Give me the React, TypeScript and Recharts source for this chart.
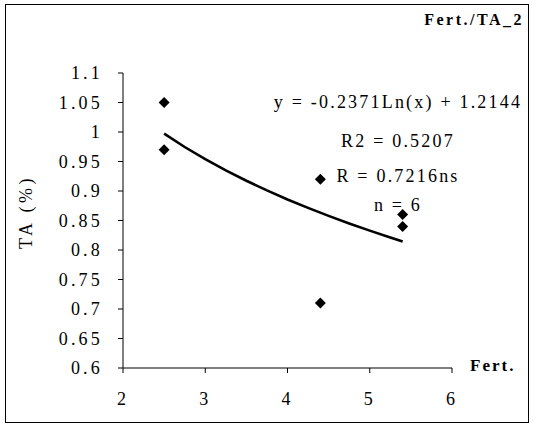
import { ScatterChart, Scatter, XAxis, YAxis, Label } from "recharts";

// observed TA (%) per fertilizer level
const fertLevels = [2.5, 2.5, 4.4, 4.4, 5.4, 5.4];
const taValues = [1.05, 0.97, 0.92, 0.71, 0.86, 0.84];

const xTicks = [2, 3, 4, 5, 6];
const yTicks = [0.6, 0.65, 0.7, 0.75, 0.8, 0.85, 0.9, 0.95, 1, 1.05, 1.1];

// logarithmic trendline: y = a*ln(x) + b
const trendA = -0.2371;
const trendB = 1.2144;
const trendXs = [2.5, 2.75, 3, 3.25, 3.5, 3.75, 4, 4.25, 4.5, 4.75, 5, 5.25, 5.4];

const statLines = ["y = -0.2371Ln(x) + 1.2144", "R2 = 0.5207", "R = 0.7216ns", "n = 6"];
const statBaselines = [108, 147, 182, 211];

const points = fertLevels.map((x, i) => ({ x, y: taValues[i] }));
const trend = trendXs.map((x) => ({ x, y: trendA * Math.log(x) + trendB }));

const serif = "'Liberation Serif', 'Times New Roman', serif";

const Diamond = (props: any) => {
  const { cx, cy } = props;
  const r = 5.5;
  return (
    <polygon
      points={`${cx},${cy - r} ${cx + r},${cy} ${cx},${cy + r} ${cx - r},${cy}`}
      fill="#000"
    />
  );
};

const NoDot = () => <g />;

export default function App() {
  const tick = { fill: "#000", fontSize: 18, fontFamily: serif, letterSpacing: 3.2 };
  return (
    <div
      style={{
        position: "absolute",
        left: 0,
        top: 0,
        width: 536,
        height: 429,
        background: "#fff",
      }}
    >
      {/* frame round the whole chart */}
      <div
        style={{
          position: "absolute",
          left: 5,
          top: 4,
          width: 522,
          height: 417,
          border: "1.5px solid #000",
        }}
      />
      <div style={{ position: "absolute", left: 0, top: 0 }}>
        <ScatterChart width={536} height={429} margin={{ top: 73, right: 84, bottom: 31, left: 0 }}>
          <XAxis
            type="number"
            dataKey="x"
            domain={[2, 6]}
            ticks={xTicks}
            height={30}
            tick={tick}
            tickSize={5}
            tickMargin={19}
            axisLine={{ stroke: "#000" }}
            tickLine={{ stroke: "#000" }}
          >
            <Label
              value="Fert."
              position="right"
              offset={18}
              dy={-18}
              style={{ fill: "#000", fontSize: 17, fontFamily: serif, fontWeight: "bold", letterSpacing: 2 }}
            />
          </XAxis>
          <YAxis
            type="number"
            dataKey="y"
            domain={[0.6, 1.1]}
            ticks={yTicks}
            width={123}
            tick={tick}
            tickSize={5}
            tickMargin={15}
            tickFormatter={(v: number) => String(v)}
            axisLine={{ stroke: "#000" }}
            tickLine={{ stroke: "#000" }}
          />
          <Scatter
            data={trend}
            line={{ stroke: "#000", strokeWidth: 2.6 }}
            lineType="joint"
            shape={NoDot}
            isAnimationActive={false}
          />
          <Scatter data={points} shape={Diamond} isAnimationActive={false} />
        </ScatterChart>
      </div>
      <svg
        width={536}
        height={429}
        style={{ position: "absolute", left: 0, top: 0, pointerEvents: "none" }}
      >
        <text
          x={524}
          y={25}
          textAnchor="end"
          fontFamily={serif}
          fontSize={16}
          fontWeight="bold"
          letterSpacing={2.5}
          fill="#000"
        >
          Fert./TA_2
        </text>
        <text
          x={26}
          y={212}
          transform="rotate(-90 26 212)"
          textAnchor="middle"
          dominantBaseline="central"
          fontFamily={serif}
          fontSize={18}
          letterSpacing={3.5}
          fill="#000"
        >
          TA (%)
        </text>
        {statLines.map((s, i) => (
          <text
            key={s}
            x={398}
            y={statBaselines[i]}
            textAnchor="middle"
            fontFamily={serif}
            fontSize={18}
            letterSpacing={2.2}
            fill="#000"
          >
            {s}
          </text>
        ))}
      </svg>
    </div>
  );
}
